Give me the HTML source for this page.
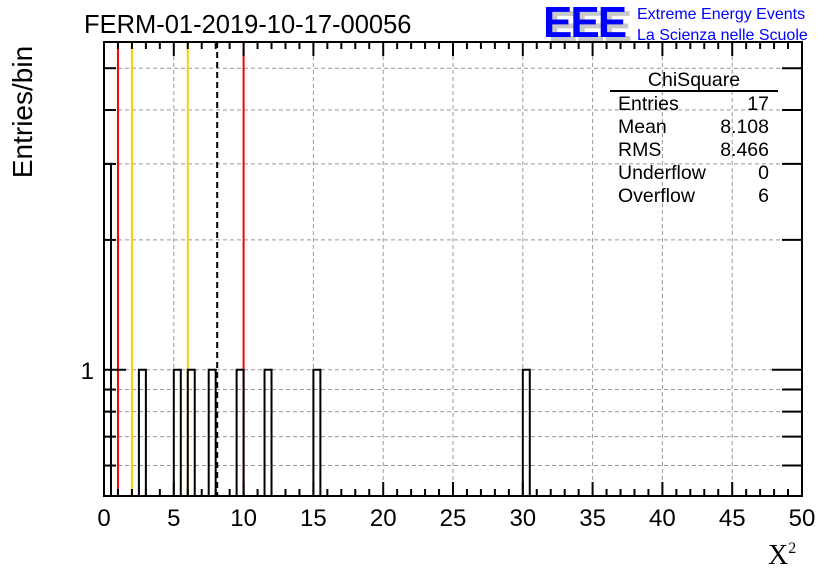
<!DOCTYPE html>
<html><head><meta charset="utf-8"><style>
body{margin:0;background:#fff;}
svg{display:block;font-family:"Liberation Sans",sans-serif;}
</style></head><body>
<svg id="chart" width="836" height="572" viewBox="0 0 836 572">
<g id="grid"></g>
<g id="refl"></g>
<g id="bars"></g>
<g id="axes"></g>
<text x="84" y="33" font-size="25.5">FERM-01-2019-10-17-00056</text>
<text transform="translate(32,112) rotate(-90)" text-anchor="middle" font-size="28">Entries/bin</text>
<text x="768" y="564" font-size="28" font-family="Liberation Serif,serif">X<tspan font-size="16" dy="-11">2</tspan></text>
<g>
<text x="548" y="41" font-size="44" font-weight="bold" fill="#c8c8c8" letter-spacing="-2">EEE</text>
<text x="543" y="37" font-size="44" font-weight="bold" fill="#0000ff" letter-spacing="-2">EEE</text>
<text x="637" y="19" font-size="16" fill="#0000ff">Extreme Energy Events</text>
<text x="637" y="40" font-size="16" fill="#0000ff">La Scienza nelle Scuole</text>
</g>
<g font-size="19.5">
<text x="694" y="86" text-anchor="middle">ChiSquare</text>
<line x1="610" y1="91" x2="778" y2="91" stroke="#000" stroke-width="2"/>
<text x="618" y="110">Entries</text><text x="769" y="110" text-anchor="end">17</text>
<text x="618" y="133">Mean</text><text x="769" y="133" text-anchor="end">8.108</text>
<text x="618" y="156">RMS</text><text x="769" y="156" text-anchor="end">8.466</text>
<text x="618" y="179">Underflow</text><text x="769" y="179" text-anchor="end">0</text>
<text x="618" y="202">Overflow</text><text x="769" y="202" text-anchor="end">6</text>
</g>
</svg>
<script>
const binLows = [0, 2.5, 5, 6, 7.5, 9.5, 11.5, 15, 30];
const binCounts = [3, 1, 1, 1, 1, 1, 1, 1, 1];
const binWidth = 0.5;
const xTicks = [0,5,10,15,20,25,30,35,40,45,50];
const yGridVals = [0.6,0.7,0.8,0.9,1,2,3,4,5];
const refRed = [1, 10];
const refYellow = [2, 6];
const meanVal = 8.108;

const L=104,R=802,T=42,B=496, xMin=0,xMax=50, yMin=0.51, yMax=5.75;
const X=v=>L+(v-xMin)/(xMax-xMin)*(R-L);
const Y=v=>B-(Math.log10(v)-Math.log10(yMin))/(Math.log10(yMax)-Math.log10(yMin))*(B-T);
const NS="http://www.w3.org/2000/svg";
function mk(p,tag,a){const e=document.createElementNS(NS,tag);for(const k in a)e.setAttribute(k,a[k]);p.appendChild(e);return e;}
const grid=document.getElementById('grid'),refl=document.getElementById('refl'),bars=document.getElementById('bars'),axes=document.getElementById('axes');
xTicks.forEach(t=>{if(t>0&&t<50){const l=mk(grid,'line',{x1:X(t),x2:X(t),y1:T,y2:B,stroke:'#999','stroke-dasharray':'4,3'});

}});
yGridVals.forEach(v=>{const l=mk(grid,'line',{x1:L,x2:R,y1:Y(v),y2:Y(v),stroke:'#999','stroke-dasharray':'4,3'});

});
refRed.forEach(v=>{const l=mk(refl,'line',{x1:X(v),x2:X(v),y1:T,y2:B,stroke:'#ff0000','stroke-width':2});

});
refYellow.forEach(v=>{const l=mk(refl,'line',{x1:X(v),x2:X(v),y1:T,y2:B,stroke:'#ffcc00','stroke-width':2});

});
const ml=mk(refl,'line',{x1:X(meanVal),x2:X(meanVal),y1:T,y2:B,stroke:'#000','stroke-width':2,'stroke-dasharray':'6,4'});


binLows.forEach((lo,i)=>{const x0=X(lo),x1=X(lo+binWidth),y=Y(binCounts[i]);
const p=mk(bars,'path',{d:`M${x0},${B}V${y}H${x1}V${B}`,fill:'none',stroke:'#000','stroke-width':2});

});
const fr=mk(axes,'rect',{x:L,y:T,width:R-L,height:B-T,fill:'none',stroke:'#000','stroke-width':2});


for(let v=0;v<=50;v++){const len=v%5===0?14:7;
mk(axes,'line',{x1:X(v),x2:X(v),y1:B,y2:B-len,stroke:'#000','stroke-width':2});
mk(axes,'line',{x1:X(v),x2:X(v),y1:T,y2:T+len,stroke:'#000','stroke-width':2});}
xTicks.forEach(t=>{const tx=mk(axes,'text',{x:X(t),y:B+30,'text-anchor':'middle','font-size':24});tx.textContent=t;

});
yGridVals.forEach(v=>{const len=v===1?22:12;const rlen=v===1?30:20;
mk(axes,'line',{x1:L,x2:L+len,y1:Y(v),y2:Y(v),stroke:'#000','stroke-width':2});
mk(axes,'line',{x1:R,x2:R-rlen,y1:Y(v),y2:Y(v),stroke:'#000','stroke-width':2});});
const yl=mk(axes,'text',{x:L-10,y:Y(1)+9,'text-anchor':'end','font-size':24});yl.textContent='1';


</script>
</body></html>
